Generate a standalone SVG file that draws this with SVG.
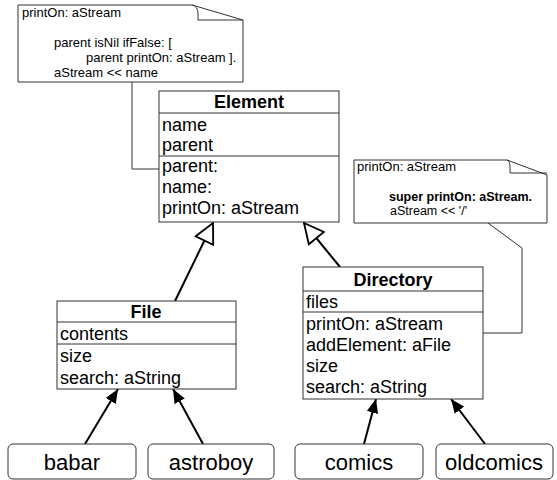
<svg xmlns="http://www.w3.org/2000/svg" width="557" height="480" viewBox="0 0 557 480">
<defs>
<style>
text{font-family:"Liberation Sans",Arial,sans-serif;fill:#000}
.cls{font-size:18px}
.hd{font-size:18px;font-weight:bold}
.nt{font-size:13px}
.nts{font-size:12.5px}
.ntb{font-size:12.5px;font-weight:bold}
.lb{font-size:22px}
.box{fill:#fff;stroke:#333;stroke-width:1}
.ln{fill:none;stroke:#333;stroke-width:1}
.inh{fill:none;stroke:#000;stroke-width:2;marker-end:url(#tri)}
.ins{fill:none;stroke:#000;stroke-width:2;marker-end:url(#arr)}
</style>
<marker id="tri" markerUnits="userSpaceOnUse" markerWidth="22" markerHeight="22" viewBox="-1 -9 18 18" refX="16" refY="0" orient="auto">
<path d="M0,-8 L16,0 L0,8 Z" fill="#fff" stroke="#000" stroke-width="1.5"/>
</marker>
<marker id="arr" markerUnits="userSpaceOnUse" markerWidth="14" markerHeight="12" viewBox="0 -5 12 10" refX="12" refY="0" orient="auto">
<path d="M0,-5 L12,0 L0,5 Z" fill="#000"/>
</marker>
</defs>

<g id="connectors">
<polyline class="ln" points="132,82 132,169 159,169"/>
<polyline class="ln" points="488,223 522,248 522,333 483,333"/>
<line class="inh" x1="175" y1="301" x2="213" y2="223"/>
<line class="inh" x1="340" y1="267" x2="304" y2="223"/>
<line class="ins" x1="85" y1="444" x2="118" y2="389"/>
<line class="ins" x1="203" y1="444" x2="173" y2="389"/>
<line class="ins" x1="364" y1="444" x2="376" y2="399"/>
<line class="ins" x1="485" y1="444" x2="451" y2="399"/>
</g>

<g id="note1">
<path class="box" d="M18,5 H192 L243,20 V82 H18 Z"/>
<path class="ln" d="M192,5 Q198,6 198,14 V20 H243"/>
<text class="nt" x="22" y="17">printOn: aStream</text>
<text class="nt" x="54" y="47">parent isNil ifFalse: [</text>
<text class="nt" x="86" y="62">parent printOn: aStream ].</text>
<text class="nt" x="54" y="77">aStream &lt;&lt; name</text>
</g>

<g id="note2">
<path class="box" d="M354,160 H507 L547,175 V223 H354 Z"/>
<path class="ln" d="M507,160 Q510,161 510,167 V173 H547"/>
<text class="nt" x="357" y="171">printOn: aStream</text>
<text class="ntb" x="389" y="201">super printOn: aStream.</text>
<text class="nts" x="390" y="215">aStream &lt;&lt; '/'</text>
</g>

<g id="Element">
<rect class="box" x="159" y="91" width="180" height="131"/>
<line class="ln" x1="159" y1="113" x2="339" y2="113"/>
<line class="ln" x1="159" y1="156" x2="339" y2="156"/>
<text class="hd" x="249" y="108" text-anchor="middle">Element</text>
<text class="cls" x="162" y="131">name</text>
<text class="cls" x="162" y="151">parent</text>
<text class="cls" x="162" y="172">parent:</text>
<text class="cls" x="162" y="193">name:</text>
<text class="cls" x="162" y="214">printOn: aStream</text>
</g>

<g id="File">
<rect class="box" x="57" y="301" width="179" height="88"/>
<line class="ln" x1="57" y1="322" x2="236" y2="322"/>
<line class="ln" x1="57" y1="344" x2="236" y2="344"/>
<text class="hd" x="146" y="318" text-anchor="middle">File</text>
<text class="cls" x="60" y="340">contents</text>
<text class="cls" x="60" y="362">size</text>
<text class="cls" x="60" y="384">search: aString</text>
</g>

<g id="Directory">
<rect class="box" x="303" y="267" width="180" height="132"/>
<line class="ln" x1="303" y1="291" x2="483" y2="291"/>
<line class="ln" x1="303" y1="312" x2="483" y2="312"/>
<text class="hd" x="393" y="286" text-anchor="middle">Directory</text>
<text class="cls" x="306" y="308">files</text>
<text class="cls" x="306" y="330">printOn: aStream</text>
<text class="cls" x="306" y="351">addElement: aFile</text>
<text class="cls" x="306" y="372">size</text>
<text class="cls" x="306" y="393">search: aString</text>
</g>

<g id="babar">
<rect class="box" x="8" y="444" width="128" height="35" rx="5"/>
<text class="lb" x="72" y="470" text-anchor="middle">babar</text>
</g>
<g id="astroboy">
<rect class="box" x="148" y="444" width="126" height="35" rx="5"/>
<text class="lb" x="211" y="470" text-anchor="middle">astroboy</text>
</g>
<g id="comics">
<rect class="box" x="295" y="444" width="128" height="35" rx="5"/>
<text class="lb" x="359" y="470" text-anchor="middle">comics</text>
</g>
<g id="oldcomics">
<rect class="box" x="436" y="444" width="117" height="35" rx="5"/>
<text class="lb" x="494" y="470" text-anchor="middle">oldcomics</text>
</g>
</svg>
